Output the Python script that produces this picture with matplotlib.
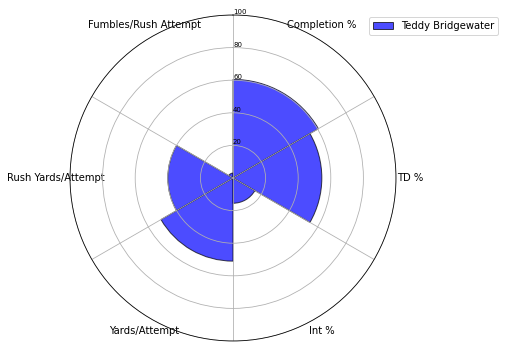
import numpy as np
import matplotlib
matplotlib.use("Agg")
import matplotlib.pyplot as plt

categories = ["Completion %", "TD %", "Int %", "Yards/Attempt",
              "Rush Yards/Attempt", "Fumbles/Rush Attempt"]
values = [60.5, 54.5, 15.5, 51, 40, 3]
series_name = "Teddy Bridgewater"
r_ticks = [20, 40, 60, 80, 100]

n = len(categories)
edges = np.linspace(0, 2 * np.pi, n, endpoint=False)
width = 2 * np.pi / n
mids = edges + width / 2

fig = plt.figure(figsize=(505 / 72, 349 / 72), dpi=72)
ax = fig.add_axes([70 / 505, 8 / 349, 326 / 505, 326 / 349], projection="polar")
ax.set_theta_zero_location("N")
ax.set_theta_direction(-1)

ax.bar(edges, values, width=width, align="edge", color="blue", alpha=0.7,
       edgecolor="black", linewidth=1, label=series_name)

ax.set_ylim(0, 100)
ax.set_yticks(r_ticks)
ax.set_yticklabels([str(t) for t in r_ticks], fontsize=7)
ax.set_rlabel_position(0)

ax.set_xticks(mids)
ax.set_xticklabels(categories, fontsize=10)
ax.set_xticks(edges, minor=True)
ax.xaxis.grid(False, which="major")
ax.xaxis.grid(True, which="minor")
ax.tick_params(axis="x", which="major", pad=3.5)

fig.legend(loc="upper left", bbox_to_anchor=(369 / 505, 1 - 17 / 349),
           borderaxespad=0, fontsize=10)

fig.savefig("out.png", dpi=72)
